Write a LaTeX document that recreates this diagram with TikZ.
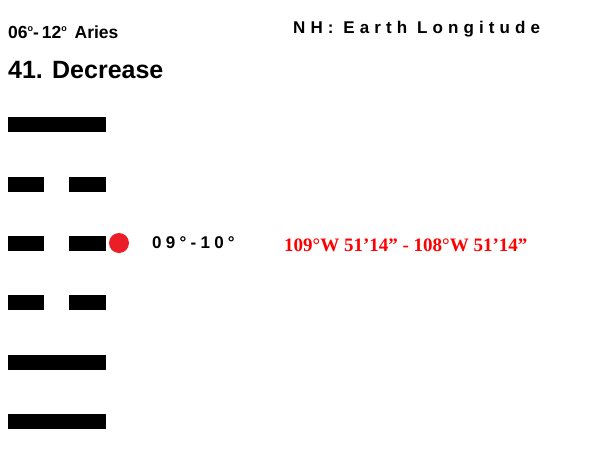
\documentclass[tikz,border=0pt]{standalone}
\usepackage{fontspec}
\setmainfont{Liberation Sans}
\newfontfamily\timesf{Liberation Serif}
\newfontfamily\spacedf[LetterSpace=25]{Liberation Sans}
\newfontfamily\widef[LetterSpace=30]{Liberation Sans}
\newcommand{\degsup}{\raisebox{0.75ex}{\fontsize{9}{9}\selectfont o}}
\begin{document}
\begin{tikzpicture}[x=1pt,y=-1pt,
  bar/.style={fill=black,draw=none},
  txt/.style={inner sep=0pt,anchor=west,font=\bfseries}]
\useasboundingbox[fill=white] (0,0) rectangle (600,450);
% bars
\fill[bar] (8,117) rectangle (106,132);
\fill[bar] (8,177) rectangle (44,192);
\fill[bar] (69,177) rectangle (106,192);
\fill[bar] (8,236) rectangle (44,251);
\fill[bar] (69,236) rectangle (106,251);
\fill[bar] (8,295) rectangle (44,310);
\fill[bar] (69,295) rectangle (106,310);
\fill[bar] (8,355) rectangle (106,370);
\fill[bar] (8,414) rectangle (106,429);
\node[circle,fill={rgb,255:red,235;green,30;blue,40},minimum size=20pt,inner sep=0pt] (dot) at (119,243) {};
% texts
\node[txt,font=\bfseries\fontsize{17.5}{19}\selectfont] (range) at (8,32) {06\degsup-\,12\degsup\ \,Aries};
\node[txt,font=\bfseries\fontsize{25}{28}\selectfont] (title) at (8,70) {41. Decrease};
\node[txt,font=\widef\bfseries\fontsize{17}{19}\selectfont] (nh) at (293,29) {NH: Earth Longitude};
\node[txt,font=\spacedf\bfseries\fontsize{17}{20}\selectfont] (deg) at (152,243) {09°-10°};
\node[txt,font=\timesf\bfseries\fontsize{19}{22}\selectfont,text=red] (lon) at (284,245) {109°W 51’14” - 108°W 51’14”};
\end{tikzpicture}
\end{document}
